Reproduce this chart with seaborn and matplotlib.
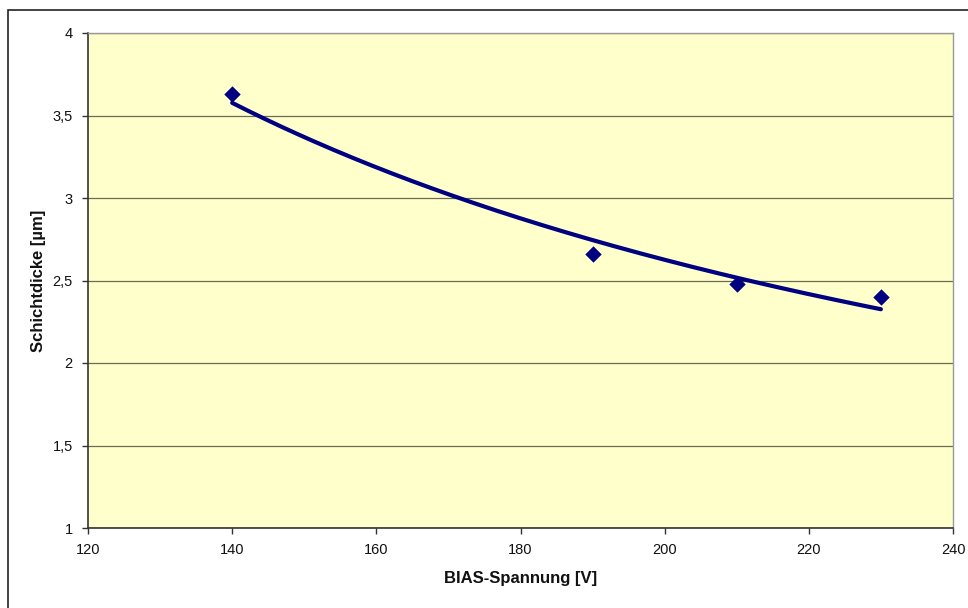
import numpy as np
import pandas as pd
import matplotlib
matplotlib.use("Agg")
import matplotlib.pyplot as plt
from matplotlib.patches import Rectangle
from matplotlib.ticker import FuncFormatter
import seaborn as sns

# Messwerte: Schichtdicke in Abhängigkeit der BIAS-Spannung
bias_voltage = [140, 190, 210, 230]
thickness = [3.63, 2.66, 2.48, 2.40]

x_ticks = [120, 140, 160, 180, 200, 220, 240]
y_ticks = [1, 1.5, 2, 2.5, 3, 3.5, 4]

sns.set_theme(style="white")
plt.rcParams["font.family"] = ["Liberation Sans", "DejaVu Sans"]

df = pd.DataFrame({"BIAS": bias_voltage, "Dicke": thickness})

# Potenz-Trendlinie y = a * x^b, angepasst im log-log-Raum
b, ln_a = np.polyfit(np.log(df["BIAS"]), np.log(df["Dicke"]), 1)
trend_x = np.linspace(min(bias_voltage), max(bias_voltage), 200)
trend = pd.DataFrame({"BIAS": trend_x, "Dicke": np.exp(ln_a) * trend_x ** b})

fig = plt.figure(figsize=(9.68, 6.08), dpi=100)
ax = fig.add_axes([88 / 968, 1 - 528 / 608, (953 - 88) / 968, (528 - 33) / 608])

# Rahmen um das Diagramm
fig.patches.append(Rectangle((8 / 968, -0.1), 1.2, 1 - 10 / 608 + 0.1,
                             transform=fig.transFigure, fill=False,
                             edgecolor="#222222", linewidth=1.2, zorder=0))

ax.set_facecolor("#FFFFCC")
navy = "#000080"

sns.lineplot(data=trend, x="BIAS", y="Dicke", ax=ax, color=navy,
             linewidth=3.0, zorder=3)
sns.scatterplot(data=df, x="BIAS", y="Dicke", ax=ax, marker="D", s=70,
                color=navy, edgecolor=navy, linewidth=0, zorder=4)

ax.set_xlim(120, 240)
ax.set_ylim(1, 4)
ax.set_xticks(x_ticks)
ax.set_yticks(y_ticks)
ax.yaxis.set_major_formatter(FuncFormatter(lambda v, p: f"{v:g}".replace(".", ",")))

ax.grid(axis="y", color="#6b6b4f", linewidth=0.9)
ax.grid(axis="x", visible=False)
ax.set_axisbelow(True)

for side in ["left", "bottom"]:
    ax.spines[side].set_color("#333333")
    ax.spines[side].set_linewidth(1.2)
for side in ["top", "right"]:
    ax.spines[side].set_color("#999999")
    ax.spines[side].set_linewidth(1.0)

ax.tick_params(axis="both", which="major", direction="out", length=4,
               width=1, color="#333333", labelsize=10.5, labelcolor="#111111",
               left=True, bottom=True, pad=7)

ax.set_xlabel("BIAS-Spannung [V]", fontsize=12, fontweight="bold",
              color="#111111", labelpad=10)
ax.set_ylabel("Schichtdicke [µm]", fontsize=12, fontweight="bold",
              color="#111111", labelpad=5)

fig.savefig("out.png", dpi=100, facecolor="white")
